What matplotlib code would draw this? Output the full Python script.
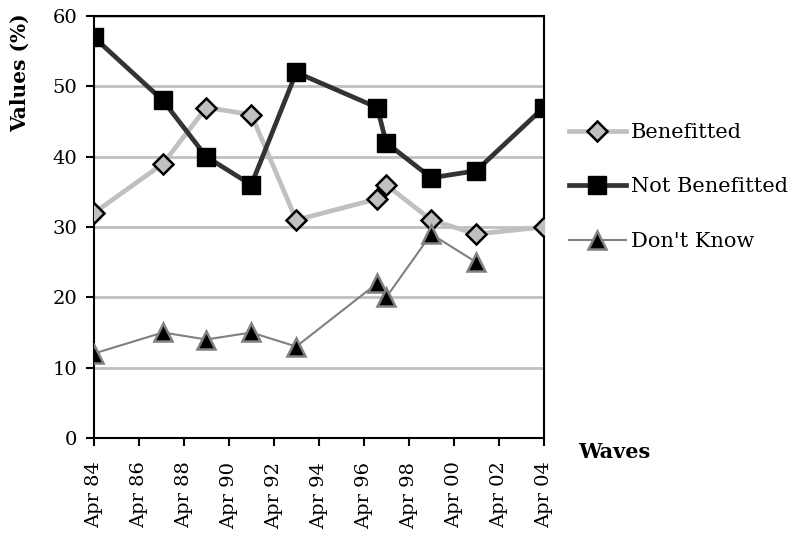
import matplotlib.pyplot as plt

# --- DATA ---
years = [1984.0, 1987.07, 1989.0, 1991.0, 1993.0, 1996.6, 1997.0, 1999.0, 2001.0, 2004.0]
benefitted = [32, 39, 47, 46, 31, 34, 36, 31, 29, 30]
not_benefitted = [57, 48, 40, 36, 52, 47, 42, 37, 38, 47]
dont_know_years = years[:-1]
dont_know = [12, 15, 14, 15, 13, 22, 20, 29, 25]

tick_years = list(range(1984, 2005, 2))
tick_labels = [f"Apr {y % 100:02d}" for y in tick_years]

plt.rcParams['font.family'] = ['DejaVu Serif']

fig = plt.figure(figsize=(7.89, 5.38), dpi=100)
ax = fig.add_axes([0.119, 0.186, 0.570, 0.784])

ax.plot(years, benefitted, color='#c0c0c0', lw=3.4, marker='D', ms=10,
        mfc='#c0c0c0', mec='black', mew=1.8, label='Benefitted', zorder=3)
ax.plot(years, not_benefitted, color='#333333', lw=3.4, marker='s', ms=12.5,
        mfc='black', mec='black', label='Not Benefitted', zorder=4)
ax.plot(dont_know_years, dont_know, color='#808080', lw=1.5, marker='^', ms=13,
        mfc='black', mec='#808080', mew=1.8, label="Don't Know", zorder=5)

ax.set_xlim(1984, 2004)
ax.set_ylim(0, 60)
ax.set_yticks(range(0, 61, 10))
ax.set_xticks(tick_years)
ax.set_xticklabels(tick_labels, rotation=90, fontsize=14)
ax.tick_params(axis='y', labelsize=14, direction='out', length=6, width=1.5, pad=6)
ax.tick_params(axis='x', direction='out', length=6, width=1.5, pad=11)
ax.yaxis.grid(True, color='#c0c0c0', lw=2)
ax.set_axisbelow(True)
for s in ax.spines.values():
    s.set_linewidth(1.5)
    s.set_color('black')

ax.set_ylabel('Values (%)', fontsize=14.5, fontweight='bold')
ax.yaxis.set_label_coords(-0.142, 0.867)
fig.text(0.733, 0.148, 'Waves', fontsize=15, fontweight='bold')

ax.legend(loc='center left', bbox_to_anchor=(1.014, 0.595), frameon=False,
          fontsize=15, handlelength=2.75, handletextpad=0.25, labelspacing=1.7)

plt.savefig('out.png', dpi=100)
